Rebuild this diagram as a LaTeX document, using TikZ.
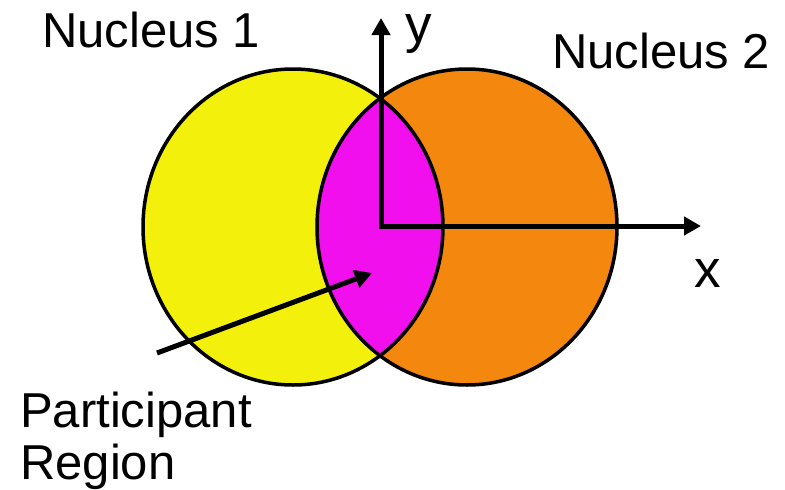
\documentclass[tikz,border=0pt]{standalone}
\usepackage{fontspec}
\setmainfont{Liberation Sans}
\usepackage{xcolor}
\usetikzlibrary{arrows.meta}
\definecolor{cYellow}{HTML}{F3F00C}
\definecolor{cOrange}{HTML}{F4880E}
\definecolor{cMagenta}{HTML}{F20FEE}

\begin{document}
\begin{tikzpicture}[
  x=1pt, y=-1pt,
  every node/.style={font=\fontsize{49}{52}\selectfont, inner sep=0pt},
  axlabel/.style={font=\fontsize{53}{56}\selectfont},
  nucleus/.style={draw=black, line width=3.5pt},
  axis/.style={line width=5pt, line join=miter,
    {Triangle[length=17pt, width=18pt]}-{Triangle[length=17pt, width=18pt]}},
  pointer/.style={line width=5pt, -{Triangle[length=17pt, width=18pt]}},
]
\useasboundingbox (0,0) rectangle (785,490);

% ─── NUCLEI ───
\fill[cYellow] (293,227) ellipse [x radius=150pt, y radius=158pt];
\fill[cOrange] (467,227) ellipse [x radius=150pt, y radius=158pt];
\begin{scope}
  \clip (293,227) ellipse [x radius=150pt, y radius=158pt];
  \fill[cMagenta] (467,227) ellipse [x radius=150pt, y radius=158pt];
\end{scope}
\draw[nucleus] (293,227) ellipse [x radius=150pt, y radius=158pt];
\draw[nucleus] (467,227) ellipse [x radius=150pt, y radius=158pt];

% ─── AXES ───
\coordinate (O) at (381,226);
\coordinate (ytip) at (381,18);
\coordinate (xtip) at (701,226);
\draw[axis] (ytip) -- (O) -- (xtip);

% ─── LABELS ───
\node[anchor=base west] (nuc1) at (42,47) {Nucleus 1};
\node[anchor=base west] (nuc2) at (552,68) {Nucleus 2};
\node[axlabel, anchor=base west] (ylab) at (405,42) {y};
\node[axlabel, anchor=base west] (xlab) at (694,287) {x};
\node[anchor=north west, align=left] (part) at (20,392) {Participant\\Region};

% ─── POINTER ───
\coordinate (pstart) at (157,353);
\coordinate (ptip) at (372,273);
\draw[pointer] (pstart) -- (ptip);

\end{tikzpicture}
\end{document}
